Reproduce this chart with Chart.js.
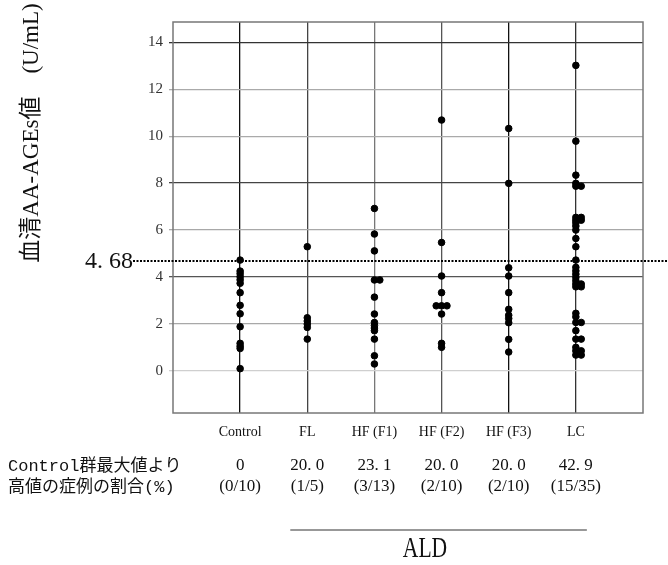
<!DOCTYPE html>
<html>
<head>
<meta charset="utf-8">
<script src="https://cdn.jsdelivr.net/npm/chart.js@4"></script>
<style>
  body { margin: 0; background: #fff; }
  #wrap { position: relative; width: 668px; height: 565px; }
</style>
</head>
<body>
<div id="wrap"><canvas id="agesChart"></canvas></div>
<script>
// --- данные ---
const categories = ['Control', 'FL', 'HF (F1)', 'HF (F2)', 'HF (F3)', 'LC'];

const controlValues = [4.72, 4.25, 4.14, 4.01, 3.88, 3.73, 3.33, 2.79, 2.43, 1.88, 1.17, 1.05, 0.95, 0.09];
const flValues = [5.29, 2.26, 2.12, 1.99, 1.85, 1.35];
const hf1Values = [6.92, 5.83, 5.11, 3.87, 3.87, 3.14, 2.42, 2.06, 1.93, 1.82, 1.71, 1.35, 0.64, 0.29];
const hf2Values = [10.69, 5.47, 4.04, 3.33, 2.77, 2.77, 2.77, 2.42, 1.17, 1.0];
const hf3Values = [10.33, 7.99, 4.39, 4.04, 3.33, 2.62, 2.37, 2.23, 2.05, 1.34, 0.80];
const lcValues = [13.02, 9.79, 8.34, 7.99, 7.87, 7.87, 6.54, 6.54, 6.42, 6.42, 6.31, 6.17, 6.0, 5.64, 5.29,
                  4.72, 4.41, 4.26, 4.12, 3.98, 3.84, 3.70, 3.70, 3.58, 3.58,
                  2.45, 2.30, 2.06, 2.06, 1.71, 1.35, 1.35, 1.0, 0.85, 0.85, 0.67, 0.67];

const groupValues = [controlValues, flValues, hf1Values, hf2Values, hf3Values, lcValues];

const yTicks = [0, 2, 4, 6, 8, 10, 12, 14];
const threshold = 4.68;
const thresholdLabel = '4. 68';

const rowTitle1 = 'Control群最大値より';
const rowTitle2 = '高値の症例の割合(%)';
const ratePercent = ['0', '20. 0', '23. 1', '20. 0', '20. 0', '42. 9'];
const rateCounts = ['(0/10)', '(1/5)', '(3/13)', '(2/10)', '(2/10)', '(15/35)'];

const yTitle = '血清AA-AGEs値　(U/mL)';
const groupTitle = 'ALD';

// точки: одинаковые значения раздвигаем по горизонтали (центр, вправо, влево)
const spread = [0, 1, -1, 2, -2];
const points = [];
groupValues.forEach((vals, i) => {
    const seen = {};
    vals.forEach(v => {
        const k = String(v);
        const n = seen[k] || 0;
        seen[k] = n + 1;
        points.push({ x: i + 1 + spread[n] * 0.08, y: v });
    });
});

// цвета сетки (на картинке линии разной яркости)
const yGridColors = { 0: '#cfcfcf', 2: '#a8a8a8', 4: '#555', 6: '#a8a8a8', 8: '#444', 10: '#aaa', 12: '#aaa', 14: '#333' };
const xGridColors = { 1: '#111', 2: '#444', 3: '#777', 4: '#555', 5: '#111', 6: '#333' };

const serif = '"Liberation Serif", "Times New Roman", serif';
const jp = '"Liberation Serif", "Noto Sans CJK JP", serif';
const jpMono = '"Liberation Mono", "Noto Sans CJK JP", monospace';

// --- рисуем подписи, пунктир и рамку ---
const extras = {
    id: 'extras',
    beforeDatasetsDraw(chart) {
        const { ctx, chartArea: a, scales } = chart;
        ctx.save();
        // рамка
        ctx.strokeStyle = '#777';
        ctx.lineWidth = 1.5;
        ctx.strokeRect(a.left, a.top, a.right - a.left, a.bottom - a.top);
        // пунктир порога
        const ty = scales.y.getPixelForValue(threshold);
        ctx.strokeStyle = '#000';
        ctx.lineWidth = 2;
        ctx.setLineDash([2, 1.5]);
        ctx.beginPath();
        ctx.moveTo(a.left - 40, ty);
        ctx.lineTo(chart.width, ty);
        ctx.stroke();
        ctx.restore();
    },
    afterDraw(chart) {
        const { ctx, chartArea: a, scales } = chart;
        ctx.save();
        ctx.fillStyle = '#111';

        // подпись порога
        const ty = scales.y.getPixelForValue(threshold);
        ctx.font = '24px ' + serif;
        ctx.textAlign = 'right';
        ctx.textBaseline = 'middle';
        ctx.fillText(thresholdLabel, a.left - 40, ty + 1);

        // заголовок оси Y
        ctx.save();
        ctx.translate(32, 133);
        ctx.rotate(-Math.PI / 2);
        ctx.textAlign = 'center';
        ctx.font = '23px ' + jp;
        ctx.fillText(yTitle, 0, 0);
        ctx.restore();

        // строки с процентами
        ctx.font = '17px ' + jpMono;
        ctx.textAlign = 'left';
        ctx.fillText(rowTitle1, 8, 466);
        ctx.fillText(rowTitle2, 8, 487);
        ctx.textAlign = 'center';
        ctx.font = '17px ' + serif;
        categories.forEach((c, i) => {
            const x = scales.x.getPixelForValue(i + 1);
            ctx.fillText(ratePercent[i], x, 466);
            ctx.fillText(rateCounts[i], x, 487);
        });

        // ALD
        const x1 = scales.x.getPixelForValue(2) - 17;
        const x2 = scales.x.getPixelForValue(6) + 11;
        ctx.strokeStyle = '#333';
        ctx.lineWidth = 1.2;
        ctx.beginPath();
        ctx.moveTo(x1, 530);
        ctx.lineTo(x2, 530);
        ctx.stroke();
        ctx.save();
        ctx.translate(425, 549);
        ctx.scale(0.72, 1);
        ctx.font = '30px ' + serif;
        ctx.fillText(groupTitle, 0, 0);
        ctx.restore();

        ctx.restore();
    }
};

new Chart(document.getElementById('agesChart').getContext('2d'), {
    type: 'scatter',
    data: {
        datasets: [{
            data: points,
            backgroundColor: '#000',
            borderColor: '#000',
            pointRadius: 3.3,
            pointHoverRadius: 3.3
        }]
    },
    options: {
        responsive: true,
        maintainAspectRatio: false,
        animation: false,
        layout: { padding: { top: 22, right: 25, left: 0, bottom: 0 } },
        plugins: {
            legend: { display: false },
            tooltip: { enabled: false }
        },
        scales: {
            x: {
                type: 'linear',
                min: 0,
                max: 7,
                afterBuildTicks: s => { s.ticks = [0, 1, 2, 3, 4, 5, 6, 7].map(v => ({ value: v })); },
                afterFit: s => { s.height = 152; },
                grid: {
                    color: c => xGridColors[c.tick.value] || 'transparent',
                    lineWidth: 1.3,
                    drawTicks: false
                },
                border: { display: false },
                ticks: {
                    autoSkip: false,
                    maxRotation: 0,
                    padding: 11,
                    color: '#111',
                    font: { family: serif, size: 14 },
                    callback: v => categories[v - 1] || ''
                }
            },
            y: {
                min: -1.8,
                max: 14.87,
                afterBuildTicks: s => { s.ticks = yTicks.map(v => ({ value: v })); },
                afterFit: s => { s.width = 173; },
                grid: {
                    color: c => yGridColors[c.tick.value] || 'transparent',
                    lineWidth: 1.3,
                    tickLength: 4
                },
                border: { display: false },
                ticks: {
                    padding: 6,
                    color: '#333',
                    font: { family: serif, size: 15 }
                }
            }
        }
    },
    plugins: [extras]
});
</script>
</body>
</html>
